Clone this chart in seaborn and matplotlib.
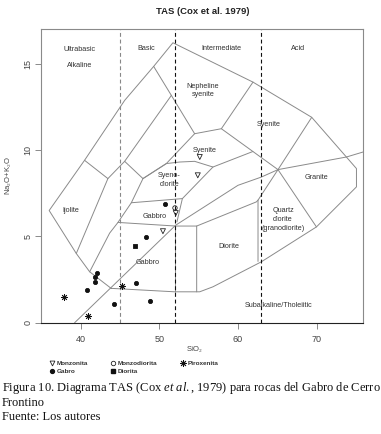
import matplotlib
matplotlib.use("Agg")
import matplotlib.pyplot as plt
from matplotlib.lines import Line2D
import seaborn as sns
import pandas as pd

# ---------------- data ----------------
rock_types = ["Monzonita", "Gabro", "Monzodiorita", "Diorita", "Piroxenita"]

monzonita_sio2 = [55.15, 54.9, 50.47, 52.1]
monzonita_alk = [9.6, 8.54, 5.3, 6.35]
monzodiorita_sio2 = [52.0]
monzodiorita_alk = [6.65]
gabro_sio2 = [50.78, 48.36, 42.12, 41.87, 41.78, 40.8, 44.2, 47.0, 48.78]
gabro_alk = [6.9, 4.97, 2.89, 2.66, 2.37, 1.89, 1.08, 2.31, 1.27]
diorita_sio2 = [46.87]
diorita_alk = [4.45]
piroxenita_sio2 = [37.84, 40.93, 45.3]
piroxenita_alk = [1.5, 0.4, 2.12]

# TAS (Cox et al. 1979) field boundaries (SiO2, Na2O+K2O)
outer_x = [43.88, 41.15, 39.45, 36.0, 40.5, 45.6, 49.29, 51.74, 61.92, 69.39, 73.8, 75.08,
           75.08, 69.99, 62.99, 56.83, 55.14, 51.96, 47.93, 43.88]
outer_y = [1.99, 2.95, 4.01, 6.5, 9.41, 12.88, 14.85, 16.22, 13.94, 11.9, 9.6, 8.93,
           7.87, 5.55, 3.53, 2.08, 1.79, 1.79, 1.89, 1.99]
divide_x = [39.24, 52.09, 60.01, 62.99, 65.1, 73.8, 75.92]
divide_y = [0.0, 5.65, 7.96, 8.44, 8.87, 9.6, 9.89]
inner_lines = [
    ([49.29, 51.54], [14.85, 13.17]),
    ([51.54, 54.5, 57.9, 61.92], [13.17, 10.95, 11.24, 13.94]),
    ([57.9, 65.1, 69.39], [11.24, 8.87, 11.9]),
    ([65.1, 69.99], [8.87, 5.55]),
    ([65.1, 62.56, 62.56], [8.87, 7.1, 3.55]),
    ([51.54, 45.6, 43.47], [13.17, 9.35, 8.35]),
    ([40.5, 43.47, 39.45], [9.41, 8.35, 4.01]),
    ([45.6, 47.93, 50.9, 54.5], [9.35, 8.35, 9.22, 10.95]),
    ([47.93, 50.9, 52.6, 54.5, 56.83, 61.91], [8.35, 9.22, 9.31, 9.35, 9.02, 9.92]),
    ([56.83, 52.94, 52.25], [9.02, 7.19, 5.84]),
    ([47.93, 46.45, 44.75, 43.69, 41.15], [8.35, 6.95, 5.81, 5.19, 2.95]),
    ([46.45, 52.94], [6.95, 7.19]),
    ([44.75, 52.09, 54.76, 54.76], [5.81, 5.6, 5.6, 1.79]),
    ([52.0, 52.0], [1.79, 5.6]),
    ([54.76, 62.35, 62.56], [5.6, 7.0, 7.1]),
]
dashed_x = [45, 52, 63]
dashed_col = ["#888888", "#111111", "#111111"]

field_labels = ["Ultrabasic", "Alkaline", "Basic", "Intermediate", "Acid", "Nepheline\nsyenite",
                "Syenite", "Syenite", "Syeno-\ndiorite", "Gabbro", "Gabbro", "Ijolite", "Diorite",
                "Quartz\ndiorite\n(granodiorite)", "Granite", "Subalkaline/Tholeiitic"]
label_x = [39.87, 39.87, 48.35, 57.9, 67.65, 55.56, 63.96, 55.78, 51.3, 49.41, 48.56, 38.8,
           58.87, 65.74, 69.99, 65.23]
label_y = [15.81, 14.9, 15.9, 15.9, 15.9, 13.46, 11.49, 9.99, 8.25, 6.13, 3.47, 6.52,
           4.44, 5.98, 8.41, 0.97]

# ---------------- figure ----------------
sns.set_theme(style="white")
plt.rcParams["font.family"] = ["Liberation Sans", "DejaVu Sans"]
plt.rcParams["mathtext.fontset"] = "custom"
plt.rcParams["mathtext.rm"] = "Liberation Serif"
plt.rcParams["mathtext.it"] = "Liberation Serif:italic"

W, H = 381, 434
fig = plt.figure(figsize=(W / 100, H / 100), dpi=100)
ax = fig.add_axes([41.3 / W, 1 - 322.7 / H, (363.3 - 41.3) / W, (322.7 - 29.3) / H])

line_col = "#8a8a8a"
lw = 0.7
ax.plot(outer_x, outer_y, color=line_col, lw=lw, zorder=2)
ax.plot(divide_x, divide_y, color=line_col, lw=lw, zorder=2)
for xs, ys in inner_lines:
    ax.plot(xs, ys, color=line_col, lw=lw, zorder=2)
for xv, c in zip(dashed_x, dashed_col):
    ax.axvline(xv, color=c, lw=0.8, ls=(0, (3.5, 2.5)), zorder=2)

for t, x, y in zip(field_labels, label_x, label_y):
    ax.text(x, y, t, ha="center", va="center", fontsize=5.2, color="#333333",
            linespacing=1.35, zorder=3)

rows = []
for name, xs, ys in [("Monzonita", monzonita_sio2, monzonita_alk),
                     ("Gabro", gabro_sio2, gabro_alk),
                     ("Monzodiorita", monzodiorita_sio2, monzodiorita_alk),
                     ("Diorita", diorita_sio2, diorita_alk),
                     ("Piroxenita", piroxenita_sio2, piroxenita_alk)]:
    for x, y in zip(xs, ys):
        rows.append({"SiO2": x, "alk": y, "type": name})
df = pd.DataFrame(rows)

star = (8, 2, 0)
marker_map = {"Monzonita": "v", "Gabro": "o", "Monzodiorita": "o", "Diorita": "s", "Piroxenita": star}
size_map = {"Monzonita": 13, "Gabro": 9, "Monzodiorita": 10, "Diorita": 8, "Piroxenita": 20}
for name in rock_types:
    sub = df[df["type"] == name]
    if name in ("Monzonita", "Monzodiorita"):
        sns.scatterplot(data=sub, x="SiO2", y="alk", ax=ax, marker=marker_map[name], s=size_map[name],
                        facecolor="none", edgecolor="#222222", linewidth=0.6, zorder=4, legend=False)
    else:
        sns.scatterplot(data=sub, x="SiO2", y="alk", ax=ax, marker=marker_map[name], s=size_map[name],
                        color="#111111", edgecolor="#111111", linewidth=0.6, zorder=4, legend=False)

ax.set_xlim(35, 75.95)
ax.set_ylim(0, 17)
ax.set_xticks([40, 50, 60, 70])
ax.set_yticks([0, 5, 10, 15])
ax.set_xlabel("")
ax.set_ylabel("")
for s in ax.spines.values():
    s.set_color("#8a8a8a")
    s.set_linewidth(0.8)
ax.spines["bottom"].set_color("#222222")
ax.tick_params(axis="both", direction="out", length=4, width=0.6, color="#777777",
               labelsize=6.5, labelcolor="#444444")
ax.tick_params(axis="x", pad=5)
ax.tick_params(axis="y", pad=2.5)
ax.tick_params(axis="both", which="both", bottom=True, left=True)
for lab in ax.get_yticklabels():
    lab.set_rotation(90)
    lab.set_va("center")

fig.text(203 / W, 1 - 12 / H, "TAS (Cox et al. 1979)", ha="center", va="center",
         fontsize=6.8, fontweight="bold", color="#222222")
fig.text(195 / W, 1 - 350 / H, "SiO$_2$", ha="center", va="center", fontsize=5.5, color="#444444")
fig.text(9 / W, 1 - 176 / H, "Na$_2$O+K$_2$O", ha="center", va="center", rotation=90,
         fontsize=5.5, color="#444444")

handles = [
    Line2D([], [], ls="none", marker="v", markersize=3.5, markerfacecolor="none",
           markeredgecolor="#222222", markeredgewidth=0.6, label="Monzonita"),
    Line2D([], [], ls="none", marker="o", markersize=2.8, color="#111111", label="Gabro"),
    Line2D([], [], ls="none", marker="o", markersize=3.2, markerfacecolor="none",
           markeredgecolor="#222222", markeredgewidth=0.6, label="Monzodiorita"),
    Line2D([], [], ls="none", marker="s", markersize=2.8, color="#111111", label="Diorita"),
    Line2D([], [], ls="none", marker=star, markersize=5, color="#111111", markeredgewidth=0.6,
           label="Piroxenita"),
]
leg = fig.legend(handles=handles, ncol=3, loc="upper left", bbox_to_anchor=(49 / W, 1 - 361 / H),
                 frameon=False, fontsize=4.6, handlelength=0.8, handletextpad=0.4,
                 columnspacing=3.5, labelspacing=0.35, borderpad=0, borderaxespad=0)
for t in leg.get_texts():
    t.set_fontweight("bold")
    t.set_color("#333333")

cap_kw = dict(ha="left", va="center", fontsize=9.0, color="#111111", family="Liberation Serif")
fig.text(2 / W, 1 - 387.5 / H,
         "Figura 10. Diagrama TAS (Cox $\\it{et\\ al.}$, 1979) para rocas del Gabro de Cerro", **cap_kw)
fig.text(2 / W, 1 - 402.7 / H, "Frontino", **cap_kw)
fig.text(2 / W, 1 - 417.3 / H, "Fuente: Los autores", **cap_kw)

fig.savefig("out.png", dpi=100)
